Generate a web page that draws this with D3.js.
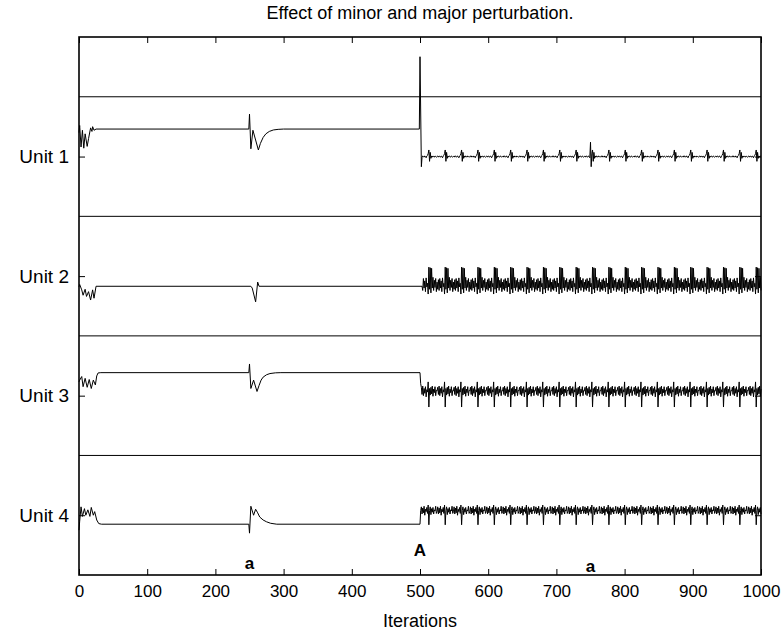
<!DOCTYPE html>
<html><head><meta charset="utf-8">
<script src="https://cdn.jsdelivr.net/npm/d3@7"></script>
<style>body{margin:0;background:#fff} text{font-family:"Liberation Sans",Arial,Helvetica,sans-serif}</style>
</head><body><svg id="c" width="784" height="632"></svg>
<script>
// ---------- data ----------
const titleText = "Effect of minor and major perturbation.";
const xLabelText = "Iterations";
const xTickValues = [0,100,200,300,400,500,600,700,800,900,1000];
const unitNames = ["Unit 1","Unit 2","Unit 3","Unit 4"];
const unitCenters = [700,500,300,100];
const separatorLevels = [200,400,600,800];
const annotLabels = ["a","A","a"];
const annotIters = [250,500,750];
const annotLevels = [20,42,15];
const cycleOrigin = 501, cycleLength = 24;

// [iteration, offset from unit centre]
const u1Early = [[0,40],[1,52],[3,16],[5,44],[7,14],[9,38],[12,17],[14,30],[17,48],[19,42],[20,50],[22,44],[25,46],
  [249,46],[250,71],[252,13],[255,44],[263,11],[266,22],[270,32],[274,38],[279,42],[285,44.5],[292,45.5],[300,46],
  [499,46],[500,167],[502,-17]];
const u1Cycle = [0,1,-1,1,0,-1,1,0,-2,1,2,5,11,-8,7,-3,1,-1,1,0,-1,1,0,-1];
const u1Perturb = [[750,24],[751,-17]];

const u2Early = [[0,-18],[1,-14],[4,-23],[6,-32],[9,-22],[11,-34],[14,-26],[17,-40],[20,-23],[22,-37],[25,-17],
  [252,-17],[254,-20],[259,-43],[262,-10],[264,-17],
  [503,-17]];
const u2Cycle = [-10,-22,-6,-24,-4,-20,-8,-26,-3,-18,-12,-30,15,-22,14,-28,13,-20,-2,-24,-7,-19,-4,-26];

const u3Early = [[0,23],[1,26],[4,32],[6,15],[9,29],[12,14],[15,27],[18,12],[21,26],[24,18],[26,33],[28,38],[32,38.5],
  [249,38.5],[250,53],[252,12],[256,26],[261,7],[264,17],[267,26],[270,31],[275,35],[280,37],[288,38.2],[296,38.5],
  [500,38.5],[501,20]];
const u3Cycle = [8,14,2,16,0,12,4,15,-2,10,6,23,-19,12,1,14,3,16,-1,11,5,15,0,9];

const u4Early = [[0,-25],[1,-10],[3,14],[5,-2],[8,11],[10,0],[13,9],[16,-2],[18,13],[21,0],[23,6],[26,-8],[29,-14],[33,-15],
  [249,-15],[250,-30],[252,15],[256,0],[259,10],[262,4],[265,-3],[270,-8],[275,-11],[281,-13.5],[290,-15],
  [500,-15],[501,8]];
const u4Cycle = [6,14,2,12,4,15,0,10,6,13,3,17,-16,8,14,1,11,5,13,2,9,7,15,3];

const unitEarly = [u1Early,u2Early,u3Early,u4Early];
const unitCycles = [u1Cycle,u2Cycle,u3Cycle,u4Cycle];
const unitPerturb = [u1Perturb,[],[],[]];

// ---------- chart ----------
const svg = d3.select("#c");
const L = 79, R = 761, T = 37, B = 575;
const x = d3.scaleLinear().domain([0,1000]).range([L,R]);
const y = d3.scaleLinear().domain([0,900]).range([B,T]);

function buildSeries(early, cycle, perturb){
  const pts = early.map(d => d.slice());
  const last = early[early.length-1][0];
  for(let i=last+1;i<=1000;i++) pts.push([i, cycle[(i-cycleOrigin)%cycleLength]]);
  perturb.forEach(p => { const q = pts.find(d => d[0]===p[0]); if(q) q[1]=p[1]; });
  return pts;
}

// separators
svg.append("g").selectAll("line").data(separatorLevels).join("line")
  .attr("x1",L).attr("x2",R).attr("y1",d=>y(d)).attr("y2",d=>y(d))
  .attr("stroke","#000").attr("stroke-width",1);

// signals
unitCenters.forEach((c,k)=>{
  const pts = buildSeries(unitEarly[k], unitCycles[k], unitPerturb[k]);
  const line = d3.line().x(d=>x(d[0])).y(d=>y(c+d[1]));
  svg.append("path").attr("d",line(pts)).attr("fill","none").attr("stroke","#000").attr("stroke-width",1);
});

// axes
const gB = svg.append("g").attr("transform",`translate(0,${B})`)
  .call(d3.axisBottom(x).tickValues(xTickValues).tickSize(-6).tickSizeOuter(0).tickPadding(10).tickFormat(d3.format("d")));
const gT = svg.append("g").attr("transform",`translate(0,${T})`)
  .call(d3.axisTop(x).tickValues(xTickValues).tickSize(-6).tickSizeOuter(0).tickFormat(""));
const gL = svg.append("g").attr("transform",`translate(${L},0)`)
  .call(d3.axisLeft(y).tickValues(unitCenters).tickSize(-6).tickSizeOuter(0).tickPadding(10).tickFormat((d,i)=>unitNames[i]));
const gR = svg.append("g").attr("transform",`translate(${R},0)`)
  .call(d3.axisRight(y).tickValues(unitCenters).tickSize(-6).tickSizeOuter(0).tickFormat(""));
[gB,gT,gL,gR].forEach(g=>{
  g.select(".domain").remove();
  g.selectAll("line").attr("stroke","#000");
  g.selectAll("text").attr("fill","#000").attr("font-family",'"Liberation Sans",Arial,sans-serif');
});
gB.selectAll("text").attr("font-size",17);
gL.selectAll("text").attr("font-size",19);

// frame
svg.append("rect").attr("x",L).attr("y",T).attr("width",R-L).attr("height",B-T)
  .attr("fill","none").attr("stroke","#000").attr("stroke-width",1.6);

// title & label
svg.append("text").attr("x",(L+R)/2).attr("y",19).attr("text-anchor","middle").attr("font-size",18).text(titleText);
svg.append("text").attr("x",(L+R)/2).attr("y",627).attr("text-anchor","middle").attr("font-size",18).text(xLabelText);

// annotations
svg.append("g").selectAll("text").data(annotLabels).join("text")
  .attr("x",(d,i)=>x(annotIters[i])).attr("y",(d,i)=>y(annotLevels[i])+6)
  .attr("text-anchor","middle").attr("font-weight","bold").attr("font-size",17).text(d=>d);
</script></body></html>
